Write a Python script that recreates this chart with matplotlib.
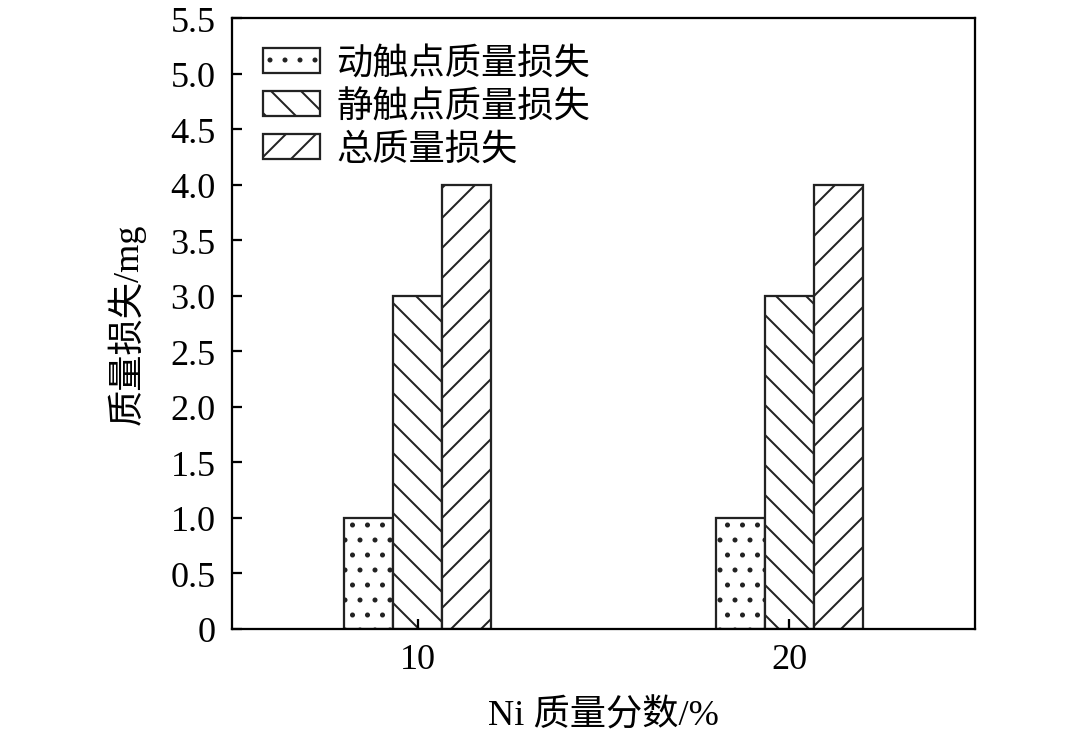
import numpy as np
import matplotlib
matplotlib.use("Agg")
import matplotlib.pyplot as plt

plt.rcParams["font.family"] = ["Liberation Serif", "Noto Sans CJK SC"]
plt.rcParams["hatch.linewidth"] = 0.8
plt.rcParams["axes.linewidth"] = 0.9

categories = ["10", "20"]
series_names = ["动触点质量损失", "静触点质量损失", "总质量损失"]
moving_loss = [1.0, 1.0]
static_loss = [3.0, 3.0]
total_loss = [4.0, 4.0]
yticks = [0, 0.5, 1.0, 1.5, 2.0, 2.5, 3.0, 3.5, 4.0, 4.5, 5.0, 5.5]
ytick_labels = ["0", "0.5", "1.0", "1.5", "2.0", "2.5", "3.0", "3.5", "4.0", "4.5", "5.0", "5.5"]

fig = plt.figure(figsize=(6.0, 741 / 180), dpi=180)
ax = fig.add_axes([232 / 1080, 1 - 630 / 741, (975 - 232) / 1080, (630 - 19) / 741])

x = np.arange(len(categories))
w = 0.132
hatches = ["..", "\\\\", "//"]
for i, (vals, name) in enumerate(zip([moving_loss, static_loss, total_loss], series_names)):
    ax.bar(x + (i - 1) * w, vals, w, facecolor="white", edgecolor="#222222",
           linewidth=0.9, hatch=hatches[i], label=name)

ax.set_xlim(-0.5, 1.5)
ax.set_ylim(0, 5.5)
ax.set_xticks(x)
ax.set_xticklabels(categories)
ax.set_yticks(yticks)
ax.set_yticklabels(ytick_labels)
ax.tick_params(direction="in", length=4, width=0.9, labelsize=14.5)
ax.tick_params(axis="y", pad=6.5)
ax.tick_params(axis="x", pad=5.5)

ax.set_xlabel("Ni 质量分数/%", fontsize=14.5, labelpad=9)
ax.set_ylabel("质量损失/mg", fontsize=14.5, labelpad=10)

ax.legend(loc="upper left", frameon=False, fontsize=14.5, handlelength=1.57,
          handleheight=0.7, handletextpad=0.45, labelspacing=0.25,
          borderaxespad=0.3, borderpad=0.4, bbox_to_anchor=(0.008, 0.994))

fig.savefig("out.png", dpi=180)
